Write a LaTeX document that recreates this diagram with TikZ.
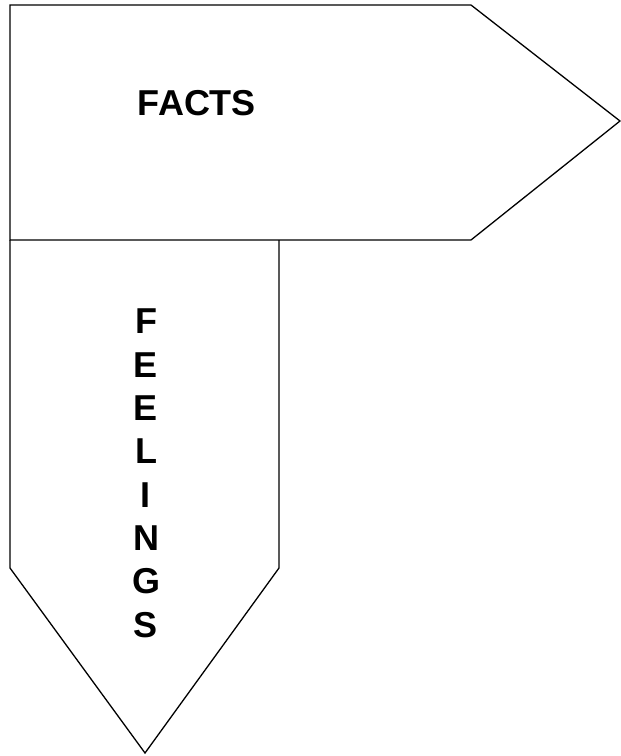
\documentclass[tikz,border=0pt]{standalone}
\usepackage{fontspec}
\setmainfont{Liberation Sans}
\begin{document}
\begin{tikzpicture}[x=1pt,y=-1pt,
  outline/.style={draw=black,line width=1.3pt,line join=miter},
  label/.style={font=\fontsize{36}{43.3}\selectfont\bfseries,inner sep=0pt}]
\useasboundingbox (0,0) rectangle (621,756);
\fill[white] (0,0) rectangle (621,756);
% FACTS arrow
\draw[outline] (10,5) -- (471,5) -- (620,121) -- (471,240) -- (10,240) -- cycle;
% FEELINGS arrow
\draw[outline] (10,240) -- (10,568) -- (145,753) -- (279,568) -- (279,240);
\node[label,anchor=base] (facts) at (197,115) {FACTS};
\node[label,align=center,anchor=north] (feelings) at (146,309)
  {F\\E\\E\\L\\I\\N\\G\\S};
\end{tikzpicture}
\end{document}
